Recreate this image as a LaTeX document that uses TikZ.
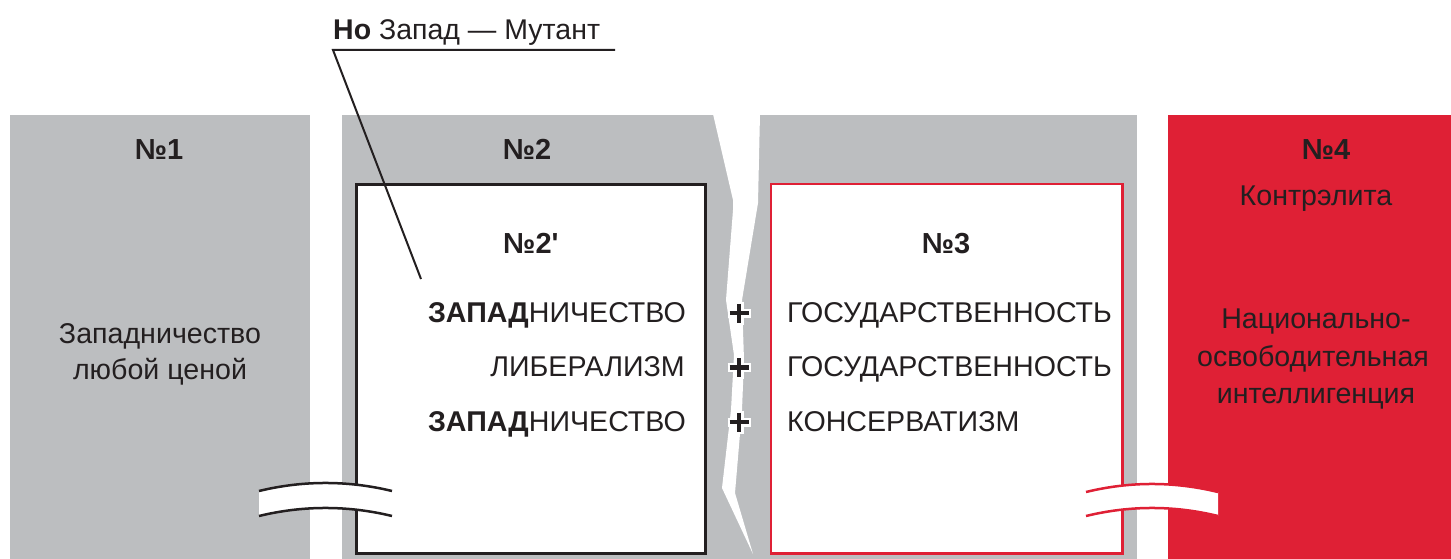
\documentclass[tikz,border=0pt]{standalone}
\usepackage{fontspec}
\setmainfont{Liberation Sans}
\newfontfamily\nomapsans{Liberation Sans}
\definecolor{pgray}{RGB}{188,190,192}
\definecolor{pred}{RGB}{223,32,53}
\definecolor{ink}{RGB}{35,31,32}
\begin{document}
\begin{tikzpicture}[x=1pt,y=-1pt,
  txt/.style={text=ink, font=\fontsize{28.6}{37}\selectfont, inner sep=0pt},
  numtxt/.style={text=ink, font=\fontsize{29}{37}\selectfont\bfseries, inner sep=0pt},
  toptxt/.style={text=ink, font=\fontsize{28.5}{34}\selectfont, inner sep=0pt},
  crackfill/.style={fill=white, draw=none},
  plussign/.pic={
    \draw[white, line width=9pt] (-11.5,0) -- (11.5,0) (0,-11.5) -- (0,11.5);
    \draw[ink, line width=4.5pt] (-9.5,0) -- (9.5,0) (0,-9.5) -- (0,9.5);
  }]
\useasboundingbox (0,0) rectangle (1451,559);
\fill[white] (0,0) rectangle (1451,559);
% panels
\fill[pgray] (10,115) rectangle (310,559);
\fill[pgray] (342,115) rectangle (1137,559);
\fill[pred] (1168,115) rectangle (1451,559);
% crack
\fill[crackfill] (713,114) -- (733,200) -- (733,210) -- (726,300) -- (734,355) -- (731,410) -- (722,488) -- (753,554)
  -- (735,493) -- (742,410) -- (744,360) -- (742,300) -- (758,203) -- (760,114) -- cycle;
% boxes
\draw[ink, line width=3pt, fill=white] (356.5,184.5) rectangle (705.5,553.5);
\draw[pred, line width=2.5pt, fill=white] (771,184.2) rectangle (1122.5,553.7);
% break waves
\fill[white] (259,491) .. controls (303,480.3) and (348,480.3) .. (392,491)
  -- (392,516) .. controls (348,505.3) and (303,505.3) .. (259,516) -- cycle;
\draw[ink, line width=2.5pt] (259,491) .. controls (303,480.3) and (348,480.3) .. (392,491);
\draw[ink, line width=2.5pt] (259,516) .. controls (303,505.3) and (348,505.3) .. (392,516);
\fill[white] (1086,492) .. controls (1130,481.3) and (1174,481.3) .. (1218,492)
  -- (1218,516) .. controls (1174,505.3) and (1130,505.3) .. (1086,516) -- cycle;
\draw[pred, line width=2.5pt] (1086,492) .. controls (1130,481.3) and (1174,481.3) .. (1218,492);
\draw[pred, line width=2.5pt] (1086,516) .. controls (1130,505.3) and (1174,505.3) .. (1218,516);
% headings
\node[numtxt, anchor=base] (n1) at (159,160) {№1};
\node[numtxt, anchor=base] (n2) at (527,160) {№2};
\node[numtxt, anchor=base] (n4) at (1326,160) {№4};
\node[txt, anchor=base] (kontr) at (1316,205) {Контрэлита};
\node[numtxt, anchor=base west] (n2p) at (503,253) {№2{\nomapsans\bfseries '}};
\node[numtxt, anchor=base] (n3) at (946,253) {№3};
% panel 1 text
\node[txt, anchor=base] (z1) at (160,343) {Западничество};
\node[txt, anchor=base] (z2) at (160,379) {любой ценой};
% panel 4 text
\node[txt, anchor=base] (k1) at (1316,328) {Национально-};
\node[txt, anchor=base] (k2) at (1313,366) {освободительная};
\node[txt, anchor=base] (k3) at (1316,403) {интеллигенция};
% rows
\node[txt, anchor=base east] (l1) at (686,322) {\textbf{ЗАПАД}НИЧЕСТВО};
\node[txt, anchor=base east] (l2) at (685,376.5) {ЛИБЕРАЛИЗМ};
\node[txt, anchor=base east] (l3) at (686,431) {\textbf{ЗАПАД}НИЧЕСТВО};
\node[txt, anchor=base west] (r1) at (787,322) {ГОСУДАРСТВЕННОСТЬ};
\node[txt, anchor=base west] (r2) at (787,376.5) {ГОСУДАРСТВЕННОСТЬ};
\node[txt, anchor=base west] (r3) at (787,431) {КОНСЕРВАТИЗМ};
% plus signs
\pic at (739,313) {plussign};
\pic at (739,367.5) {plussign};
\pic at (739,422) {plussign};
% top label with leader
\node[toptxt, anchor=base west] (top) at (333,40) {\textbf{Но} Запад — Мутант};
\coordinate (ul1) at (333,50);
\coordinate (ul2) at (615,50);
\coordinate (lead) at (421,279);
\draw[ink, line width=2pt] (ul2) -- (ul1) -- (lead);
\end{tikzpicture}
\end{document}
